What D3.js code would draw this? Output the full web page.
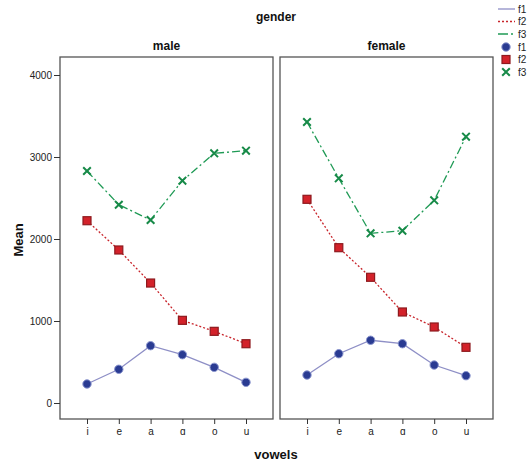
<!DOCTYPE html>
<html>
<head>
<meta charset="utf-8">
<script src="https://cdn.jsdelivr.net/npm/d3@7"></script>
<style>
  body { margin: 0; background: #fff; }
  text { font-family: "Liberation Sans", Arial, sans-serif; }
  .tick-text { font-size: 10px; fill: #222; }
  .bold { font-weight: bold; font-size: 12px; fill: #111; }
</style>
</head>
<body>
<svg id="chart" width="527" height="463"></svg>
<script>
const vowels = ["i", "e", "a", "ɑ", "o", "u"];
const genders = ["male", "female"];
const yTicks = [0, 1000, 2000, 3000, 4000];

const maleF1 = [232, 411, 699, 589, 435, 252];
const maleF2 = [2223, 1866, 1463, 1008, 874, 723];
const maleF3 = [2829, 2418, 2232, 2711, 3045, 3077];
const femaleF1 = [341, 601, 765, 723, 463, 333];
const femaleF2 = [2484, 1894, 1533, 1110, 927, 679];
const femaleF3 = [3427, 2740, 2069, 2101, 2472, 3248];

const seriesNames = ["f1", "f2", "f3"];
const panelData = {
  male: [maleF1, maleF2, maleF3],
  female: [femaleF1, femaleF2, femaleF3],
};

const styles = {
  f1: { line: "#8e8fc6", dash: null, marker: "circle", fill: "#2a3b92", stroke: "#8b96cf" },
  f2: { line: "#c8242b", dash: "2,2", marker: "square", fill: "#d3222a", stroke: "#8e1a1e" },
  f3: { line: "#1f9a55", dash: "8,3,2,3", marker: "cross", fill: "none", stroke: "#178a48" },
};

const svg = d3.select("#chart");
const panelTop = 57, panelBottom = 419, panelWidth = 213;
const panelLefts = { male: 60, female: 280 };

const y = d3.scaleLinear().domain([0, 4000]).range([403, 75]);

function drawMarker(g, type, cx, cy, st) {
  if (type === "circle") {
    g.append("circle").attr("cx", cx).attr("cy", cy).attr("r", 4.2)
      .attr("fill", st.fill).attr("stroke", st.stroke).attr("stroke-width", 1);
  } else if (type === "square") {
    g.append("rect").attr("x", cx - 4).attr("y", cy - 4).attr("width", 8).attr("height", 8)
      .attr("fill", st.fill).attr("stroke", st.stroke).attr("stroke-width", 1.2);
  } else {
    const s = 3.8;
    g.append("path")
      .attr("d", `M${cx - s},${cy - s}L${cx + s},${cy + s}M${cx - s},${cy + s}L${cx + s},${cy - s}`)
      .attr("stroke", st.stroke).attr("stroke-width", 2).attr("fill", "none");
  }
}

genders.forEach((gender) => {
  const left = panelLefts[gender];
  const x = d3.scalePoint().domain(vowels).range([left + 27, left + 186]);

  const g = svg.append("g");

  g.append("rect")
    .attr("x", left).attr("y", panelTop)
    .attr("width", panelWidth).attr("height", panelBottom - panelTop)
    .attr("fill", "none").attr("stroke", "#555").attr("stroke-width", 1.3);

  g.append("text").attr("class", "bold")
    .attr("x", left + panelWidth / 2).attr("y", 50)
    .attr("text-anchor", "middle").text(gender);

  // x axis
  const xAxis = g.append("g").attr("transform", `translate(0,${panelBottom})`)
    .call(d3.axisBottom(x).tickSize(5).tickPadding(4));
  xAxis.select(".domain").remove();
  xAxis.selectAll("line").attr("stroke", "#333");
  xAxis.selectAll("text").attr("class", "tick-text").attr("font-size", null).attr("font-family", null);

  if (gender === "male") {
    const yAxis = g.append("g").attr("transform", `translate(${left},0)`)
      .call(d3.axisLeft(y).tickValues(yTicks).tickFormat(d3.format("d")).tickSize(6).tickPadding(2));
    yAxis.select(".domain").remove();
    yAxis.selectAll("line").attr("stroke", "#333");
    yAxis.selectAll("text").attr("class", "tick-text").attr("font-size", null).attr("font-family", null);
  }

  const line = d3.line().x((d, i) => x(vowels[i])).y((d) => y(d));

  panelData[gender].forEach((values, si) => {
    const st = styles[seriesNames[si]];
    g.append("path").datum(values)
      .attr("d", line)
      .attr("fill", "none")
      .attr("stroke", st.line)
      .attr("stroke-width", 1.3)
      .attr("stroke-dasharray", st.dash);
  });

  panelData[gender].forEach((values, si) => {
    const st = styles[seriesNames[si]];
    values.forEach((v, i) => drawMarker(g, st.marker, x(vowels[i]), y(v), st));
  });
});

// titles
svg.append("text").attr("class", "bold").attr("x", 276).attr("y", 21)
  .attr("text-anchor", "middle").text("gender");
svg.append("text").attr("class", "bold").attr("x", 276).attr("y", 459)
  .attr("text-anchor", "middle").style("font-size", "13px").text("vowels");
svg.append("text").attr("class", "bold")
  .attr("transform", "translate(23,240) rotate(-90)")
  .attr("text-anchor", "middle").style("font-size", "13px").text("Mean");

// legend
const legend = svg.append("g");
seriesNames.forEach((name, i) => {
  const st = styles[name];
  const ly = 9 + i * 12.5;
  legend.append("line").attr("x1", 498).attr("x2", 515).attr("y1", ly).attr("y2", ly)
    .attr("stroke", st.line).attr("stroke-width", 1.3)
    .attr("stroke-dasharray", name === "f3" ? "10,3,2,3" : st.dash);
  legend.append("text").attr("class", "tick-text").attr("x", 518).attr("y", ly + 3.5).text(name);
});
seriesNames.forEach((name, i) => {
  const st = styles[name];
  const ly = 47 + i * 12.5;
  drawMarker(legend, st.marker, 506, ly, st);
  legend.append("text").attr("class", "tick-text").attr("x", 518).attr("y", ly + 3.5).text(name);
});
</script>
</body>
</html>
